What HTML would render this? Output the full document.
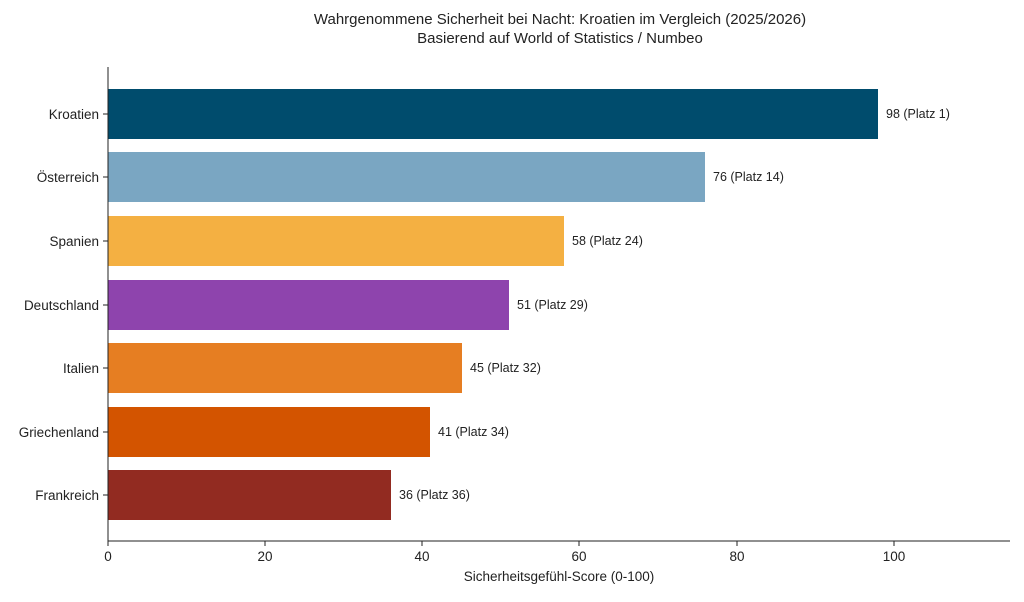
<!DOCTYPE html>
<html><head><meta charset="utf-8"><style>
body{margin:0;background:#fff;}
svg text{font-family:"Liberation Sans","DejaVu Sans",sans-serif;fill:#222;}
</style></head><body>
<svg width="1024" height="597" viewBox="0 0 1024 597" xmlns="http://www.w3.org/2000/svg">
<text x="560" y="24" font-size="15" text-anchor="middle">Wahrgenommene Sicherheit bei Nacht: Kroatien im Vergleich (2025/2026)</text>
<text x="560" y="43" font-size="15" text-anchor="middle">Basierend auf World of Statistics / Numbeo</text>
<g>
<rect x="108" y="89" width="770" height="50" fill="#004c6d"/>
<rect x="108" y="152" width="597" height="50" fill="#7aa6c2"/>
<rect x="108" y="216" width="456" height="50" fill="#f4b042"/>
<rect x="108" y="280" width="401" height="50" fill="#8e44ad"/>
<rect x="108" y="343" width="354" height="50" fill="#e67e22"/>
<rect x="108" y="407" width="322" height="50" fill="#d35400"/>
<rect x="108" y="470" width="283" height="50" fill="#922b21"/>
</g>
<g font-size="12.5">
<text x="886" y="118">98 (Platz 1)</text>
<text x="713" y="181">76 (Platz 14)</text>
<text x="572" y="245">58 (Platz 24)</text>
<text x="517" y="309">51 (Platz 29)</text>
<text x="470" y="372">45 (Platz 32)</text>
<text x="438" y="436">41 (Platz 34)</text>
<text x="399" y="499">36 (Platz 36)</text>
</g>
<g font-size="13.5" text-anchor="end">
<text x="99" y="119">Kroatien</text>
<text x="99" y="182">Österreich</text>
<text x="99" y="246">Spanien</text>
<text x="99" y="310">Deutschland</text>
<text x="99" y="373">Italien</text>
<text x="99" y="437">Griechenland</text>
<text x="99" y="500">Frankreich</text>
</g>
<g stroke="#222" stroke-width="1">
<line x1="108" y1="67" x2="108" y2="541"/>
<line x1="108" y1="541" x2="1010" y2="541"/>
<line x1="103" y1="114" x2="108" y2="114"/><line x1="103" y1="177" x2="108" y2="177"/>
<line x1="103" y1="241" x2="108" y2="241"/><line x1="103" y1="305" x2="108" y2="305"/>
<line x1="103" y1="368" x2="108" y2="368"/><line x1="103" y1="432" x2="108" y2="432"/>
<line x1="103" y1="495" x2="108" y2="495"/>
<line x1="108" y1="541" x2="108" y2="546"/><line x1="265" y1="541" x2="265" y2="546"/>
<line x1="422" y1="541" x2="422" y2="546"/><line x1="579" y1="541" x2="579" y2="546"/>
<line x1="737" y1="541" x2="737" y2="546"/><line x1="894" y1="541" x2="894" y2="546"/>
</g>
<g font-size="13.5" text-anchor="middle">
<text x="108" y="561">0</text><text x="265" y="561">20</text><text x="422" y="561">40</text>
<text x="579" y="561">60</text><text x="737" y="561">80</text><text x="894" y="561">100</text>
<text x="559" y="581">Sicherheitsgefühl-Score (0-100)</text>
</g>
</svg>
</body></html>
